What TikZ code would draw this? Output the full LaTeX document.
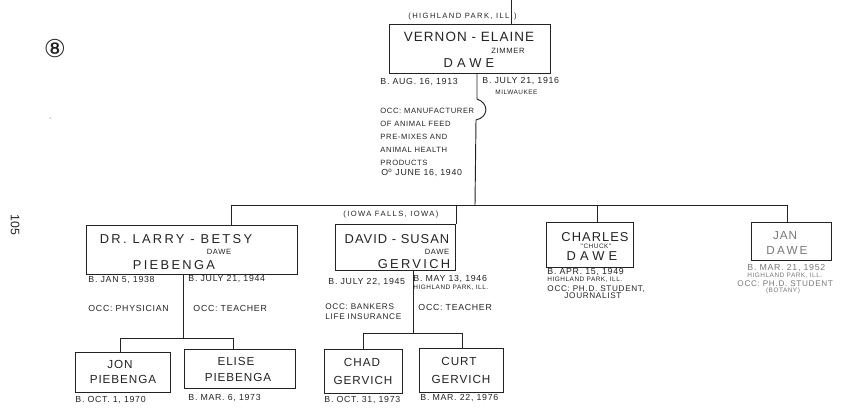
\documentclass[tikz,border=0pt]{standalone}
\usepackage{fontspec}
\setmainfont{Liberation Sans}
\newfontfamily\hand[LetterSpace=8]{Liberation Sans}
\newfontfamily\handw[LetterSpace=18]{Liberation Sans}
\newfontfamily\handx[LetterSpace=32]{Liberation Sans}
\newfontfamily\symb{DejaVu Sans}
\usepackage{tikz}
\usetikzlibrary{positioning,calc}
\usepackage{xcolor}
\definecolor{ink}{RGB}{35,35,35}
\definecolor{faded}{RGB}{120,120,120}

\begin{document}
\begin{tikzpicture}[x=0.03cm, y=-0.03cm, line width=0.8pt, draw=ink, text=ink,
    box/.style={draw, inner sep=0pt},
    nm/.style={font=\hand\fontsize{11}{12}\selectfont},
    nmw/.style={font=\handw\fontsize{11}{12}\selectfont},
    nmx/.style={font=\handx\fontsize{11}{12}\selectfont},
    kid/.style={font=\hand\fontsize{10}{11}\selectfont},
    sub/.style={font=\hand\fontsize{6.5}{7}\selectfont},
    dat/.style={font=\hand\fontsize{7.5}{8}\selectfont, anchor=west, inner sep=0pt},
    tny/.style={font=\hand\fontsize{5.5}{6}\selectfont, anchor=west, inner sep=0pt},
    plc/.style={font=\handw\fontsize{6.5}{7}\selectfont, anchor=west, inner sep=0pt}
]
\useasboundingbox (0,0) rectangle (854,415);

% page marks
\node[font=\symb\fontsize{21}{22}\selectfont] (pg) at (55,49) {⑧};
\node[font=\fontsize{10.5}{11}\selectfont, rotate=-90] (pno) at (15,225) {105};
\fill[faded] (50,118) circle (0.6);

% parents
\node[box, minimum width=4.83cm, minimum height=1.47cm] (vernon) at (469.5,48.5) {};
\node[nm, font=\hand\fontsize{11.5}{12}\selectfont] (vernonA) at (469,37) {VERNON - ELAINE};
\node[sub] (vernonB) at (508,51) {ZIMMER};
\node[nmx] (vernonC) at (469,63) {DAWE};
\node[plc] (vernonP) at (408,17) {(HIGHLAND PARK, ILL.)};
\node[dat] (vernonD1) at (380,82) {B. AUG. 16, 1913};
\node[dat] (vernonD2) at (482,81) {B. JULY 21, 1916};
\node[tny] (vernonD3) at (495,92) {MILWAUKEE};
\node[dat, align=left, anchor=north west, font=\hand\fontsize{6.5}{11}\selectfont] (occ) at (380,108)
  {OCC: MANUFACTURER\\OF ANIMAL FEED\\PRE-MIXES AND\\ANIMAL HEALTH\\PRODUCTS};
\node[dat] (wed) at (381,173) {O\textsuperscript{o} JUNE 16, 1940};

\coordinate (in) at (511,0);
\draw (in) -- (in |- vernon.north);
\coordinate (vdown) at (477,99);
\coordinate (bend) at (476,120);
\coordinate (hub) at (475,205);
\draw (vernon.south -| vdown) -- (vdown) .. controls (489,103) and (489,117) .. (bend) -- (hub);

% children row
\coordinate (busL) at (231,205);
\coordinate (busR) at (787,205);
\coordinate (dv) at (456,205);
\coordinate (dc) at (597,205);
\draw (busL) -- (busR);

\node[box, minimum width=6.33cm, minimum height=1.47cm] (larry) at (191.5,249.5) {};
\node[nmw] (larryA) at (176,239) {DR. LARRY - BETSY};
\node[sub] (larryB) at (219,252) {DAWE};
\node[nmw] (larryC) at (174,265) {PIEBENGA};
\node[dat] (larryD1) at (88,280) {B. JAN 5, 1938};
\node[dat] (larryD2) at (188,279) {B. JULY 21, 1944};
\node[dat] (larryO1) at (88,308) {OCC: PHYSICIAN};
\node[dat] (larryO2) at (193,308) {OCC: TEACHER};

\node[box, minimum width=3.6cm, minimum height=1.38cm] (david) at (395,247) {};
\node[plc] (davidP) at (343,215) {(IOWA FALLS, IOWA)};
\node[nm] (davidA) at (397,239) {DAVID - SUSAN};
\node[sub] (davidB) at (437,252) {DAWE};
\node[nmw] (davidC) at (414,264) {GERVICH};
\node[dat] (davidD1) at (328,282) {B. JULY 22, 1945};
\node[dat] (davidD2) at (413,279) {B. MAY 13, 1946};
\node[tny] (davidD3) at (413,288) {HIGHLAND PARK, ILL.};
\node[dat, align=left, anchor=north west, font=\hand\fontsize{7}{8.5}\selectfont] (davidO1) at (325,303) {OCC: BANKERS\\LIFE INSURANCE};
\node[dat] (davidO2) at (418,307) {OCC: TEACHER};

\node[box, minimum width=2.61cm, minimum height=1.35cm] (charles) at (589.5,244.5) {};
\node[nm] (charlesA) at (595,237) {CHARLES};
\node[tny, anchor=center] (charlesB) at (596,246) {"CHUCK"};
\node[nmx] (charlesC) at (592,256) {DAWE};
\node[dat] (charlesD1) at (547,272) {B. APR. 15, 1949};
\node[tny] (charlesD2) at (547,280) {HIGHLAND PARK, ILL.};
\node[dat, font=\hand\fontsize{7}{8}\selectfont] (charlesO1) at (547,289) {OCC: PH.D. STUDENT,};
\node[dat, font=\hand\fontsize{7}{8}\selectfont] (charlesO2) at (564,296) {JOURNALIST};

\begin{scope}[text=faded]
\node[box, minimum width=2.4cm, minimum height=1.14cm] (jan) at (791,241) {};
\node[kid] (janA) at (785,236) {JAN};
\node[kid, font=\handw\fontsize{10}{11}\selectfont] (janB) at (787,250) {DAWE};
\node[dat] (janD1) at (747,268) {B. MAR. 21, 1952};
\node[tny] (janD2) at (747,276) {HIGHLAND PARK, ILL.};
\node[dat, font=\hand\fontsize{7}{8}\selectfont] (janO1) at (737,284) {OCC: PH.D. STUDENT};
\node[tny, anchor=center] (janO2) at (783,291) {(BOTANY)};
\end{scope}

\draw (busL) -- (busL |- larry.north);
\draw (dv) -- (dv |- david.north);
\draw (dc) -- (dc |- charles.north);
\draw (busR) -- (busR |- jan.north);

% grandchildren
\node[box, minimum width=2.85cm, minimum height=1.2cm] (jon) at (122.5,372) {};
\node[kid] (jonA) at (120,364) {JON};
\node[kid] (jonB) at (123,379) {PIEBENGA};
\node[dat] (jonD) at (75,400) {B. OCT. 1, 1970};

\node[box, minimum width=3.33cm, minimum height=1.17cm] (elise) at (239.5,368.5) {};
\node[kid] (eliseA) at (236,361) {ELISE};
\node[kid] (eliseB) at (238,377) {PIEBENGA};
\node[dat] (eliseD) at (188,398) {B. MAR. 6, 1973};

\node[box, minimum width=2.34cm, minimum height=1.32cm] (chad) at (363,371) {};
\node[kid] (chadA) at (362,362) {CHAD};
\node[kid] (chadB) at (363,380) {GERVICH};
\node[dat] (chadD) at (324,400) {B. OCT. 31, 1973};

\node[box, minimum width=2.52cm, minimum height=1.32cm] (curt) at (461,370) {};
\node[kid] (curtA) at (459,361) {CURT};
\node[kid] (curtB) at (461,379) {GERVICH};
\node[dat] (curtD) at (420,398) {B. MAR. 22, 1976};

\coordinate (lk) at (183,338);
\coordinate (lkL) at (120,338);
\coordinate (lkR) at (233,338);
\draw (larry.south -| lk) -- (lk);
\draw (lkL) -- (lkR);
\draw (lkL) -- (lkL |- jon.north);
\draw (lkR) -- (lkR |- elise.north);

\coordinate (dk) at (413,333);
\coordinate (dkL) at (363,333);
\coordinate (dkR) at (462,333);
\draw (david.south -| dk) -- (dk);
\draw (dkL) -- (dkR);
\draw (dkL) -- (dkL |- chad.north);
\draw (dkR) -- (dkR |- curt.north);
\end{tikzpicture}
\end{document}
